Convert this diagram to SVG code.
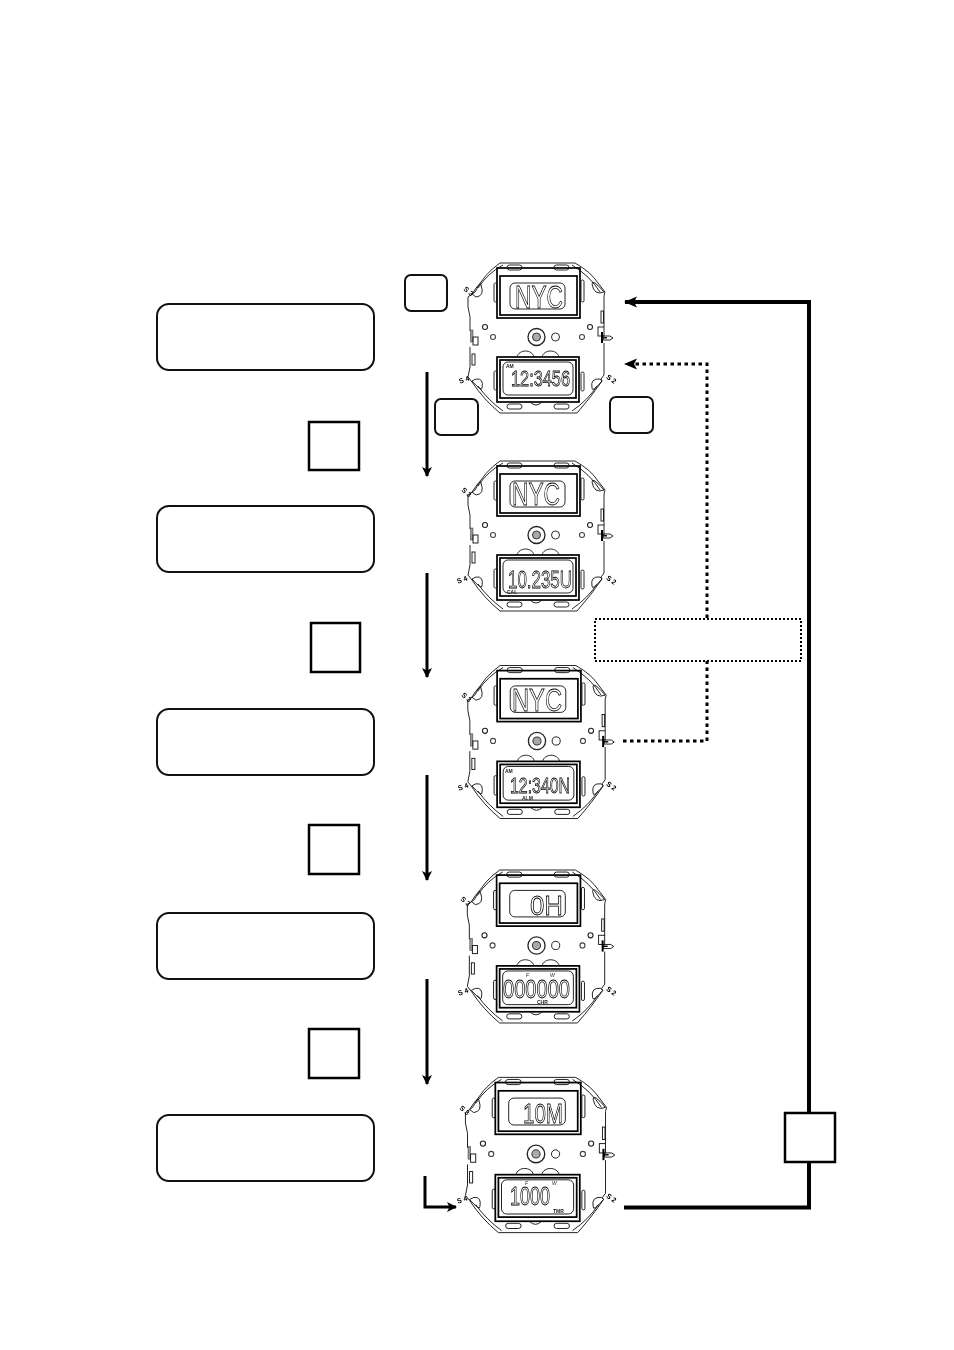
<svg xmlns="http://www.w3.org/2000/svg" width="954" height="1350" viewBox="0 0 954 1350">
<style>
.rb{fill:#fff;stroke:#111;stroke-width:2}
.sb{fill:#fff;stroke:#000;stroke-width:2.5}
.rs{fill:#fff;stroke:#111;stroke-width:2}
.t{fill:none;stroke:#000;stroke-linecap:butt;stroke-linejoin:miter}
.a{stroke-width:3;marker-end:url(#ah)}
.th{stroke-width:4;marker-end:url(#ah2)}
.dot{stroke-width:3;stroke-dasharray:3.5 3.5}
.dm{marker-end:url(#ah2)}
.w{fill:none;stroke:#111;stroke-width:.9}
.f{fill:none;stroke:#000;stroke-width:1.7}
.lcd{font-family:"Liberation Sans",Arial,sans-serif;fill:#fff;stroke:#000;stroke-width:.8}
.s{font-family:"Liberation Sans",Arial,sans-serif;font-weight:bold;font-size:7px;fill:#000;text-anchor:middle}
.m{font-family:"Liberation Sans",Arial,sans-serif;font-weight:bold;font-size:5px;fill:#222}
.i{font-style:italic;font-weight:normal}
.g{filter:url(#gray)}
</style>
<defs>
<filter id="gray" x="-5%" y="-5%" width="110%" height="110%" color-interpolation-filters="sRGB"><feColorMatrix type="saturate" values="0"/></filter>
<marker id="ah" markerUnits="userSpaceOnUse" markerWidth="12" markerHeight="11" refX="9" refY="5.5" orient="auto"><path d="M0 .5L10 5.5L0 10.500L2.500 5.500Z" fill="#000"/></marker>
<marker id="ah2" markerUnits="userSpaceOnUse" markerWidth="14" markerHeight="12" refX="12" refY="6" orient="auto"><path d="M0 .5L13 6L0 11.500L3 6Z" fill="#000"/></marker>
<g id="body">
<path class="w" d="M604 343V375L601 379L602 381Q592 396 577 413H500Q484 400 472 382L468 377L470 367V347M470 331V317L468 307V297L475 292Q484 274 500 263H575Q591 272 598 283L605 292L604 296V327"/>
<path class="w" d="M503 265Q488 273 478 288M572 265Q590 276 600 292M478 386Q488 400 503 411M597 386Q588 400 572 411"/>
<path class="w" d="M472 294Q481 280 481 285Q485 296 476 297ZM604 292Q592 278 592 284Q594 296 604 292ZM472 381Q482 392 482 388Q484 378 476 379ZM602 381Q592 393 592 388Q590 378 600 379Z"/>
<rect class="f" x="497" y="268" width="83" height="50"/>
<rect class="f" x="500" y="276" width="77" height="39"/>
<rect class="w" x="510" y="283" width="55" height="26" rx="5"/>
<rect class="w" x="507" y="265" width="15" height="5" rx="2.500"/><rect class="w" x="554" y="265" width="15" height="5" rx="2.500"/>
<rect class="w" x="494" y="283" width="3" height="19" rx="1.500"/><rect class="w" x="581" y="280" width="3" height="22" rx="1.500"/>
<rect class="f" x="497" y="357" width="82" height="45"/>
<rect class="f" x="500" y="360" width="76" height="38"/>
<rect class="w" x="503" y="362" width="70" height="33" rx="5"/>
<path class="w" d="M517 357C519 349 532 349 534 357M542 357C544 349 557 349 559 357M530 402Q536 408 542 402"/>
<rect class="w" x="507" y="404" width="15" height="5" rx="2.500"/><rect class="w" x="554" y="404" width="15" height="5" rx="2.500"/>
<rect class="w" x="494" y="371" width="3" height="19" rx="1.500"/><rect class="w" x="581" y="372" width="3" height="19" rx="1.500"/>
<circle cx="536.500" cy="337" r="8.500" fill="#fff" stroke="#222" stroke-width="1.300"/>
<circle cx="536.500" cy="337" r="4" fill="#aaa" stroke="#333" stroke-width="1"/>
<circle class="w" cx="555.500" cy="337" r="4"/>
<circle cx="485" cy="327" r="2.500" fill="none" stroke="#222" stroke-width="1.100"/><circle cx="493" cy="337" r="2.500" fill="none" stroke="#444" stroke-width="1.100"/>
<circle cx="590" cy="327" r="2.500" fill="none" stroke="#222" stroke-width="1.100"/><circle cx="582" cy="337" r="2.500" fill="none" stroke="#444" stroke-width="1.100"/>
<rect class="w" x="601" y="311" width="2.500" height="12"/>
<rect class="w" x="598" y="327" width="6" height="9"/>
<path d="M602 332V343" stroke="#000" stroke-width="2" fill="none"/>
<path class="w" d="M603 336H610L613 338L610 340H603Z"/>
<path d="M602 337.800H607" stroke="#000" stroke-width="1.400" fill="none"/>
<rect x="470.500" y="330" width="2.500" height="12" fill="#999" stroke="#333" stroke-width=".5"/>
<rect class="w" x="473" y="337" width="5" height="8"/>
<rect class="w" x="472" y="354" width="3" height="11"/>
</g>
</defs>

<g id="connectors">
<path class="t a" d="M427 372V476"/>
<path class="t a" d="M427 573V677"/>
<path class="t a" d="M427 775V880"/>
<path class="t a" d="M427 979V1084"/>
<path class="t a" d="M425 1176V1207H456"/>
<path class="t th" d="M624 1207.500H809V302H625"/>
<path class="t dot" d="M623 741H707V661"/>
<path class="t dot dm" d="M707 618V364H625"/>
</g>

<g id="watch1" class="g">
<use href="#body"/>
<text class="lcd" x="515" y="308" font-size="32" textLength="48" lengthAdjust="spacingAndGlyphs">NYC</text>
<text class="lcd" x="511" y="386" font-size="22" textLength="59" lengthAdjust="spacingAndGlyphs">12:3456</text>
<text class="m" x="506" y="368">AM</text>
<text class="s" transform="translate(467 293) rotate(40)">S 3</text>
<text class="s" transform="translate(465 382) rotate(-20)">S 4</text>
<text class="s" transform="translate(610 381) rotate(35)">S 2</text>
</g>
<g id="watch2" class="g">
<use href="#body" transform="translate(536.500 536) scale(1 1) translate(-536.500 -338)"/>
<text class="lcd" x="512" y="505" font-size="32" textLength="48" lengthAdjust="spacingAndGlyphs">NYC</text>
<text class="lcd" x="508" y="588" font-size="24" textLength="64" lengthAdjust="spacingAndGlyphs">10.235U</text>
<text class="m" x="507" y="594">CAL</text>
<text class="s" transform="translate(465 494) rotate(40)">S 3</text>
<text class="s" transform="translate(463 582) rotate(-20)">S 4</text>
<text class="s" transform="translate(610 582) rotate(35)">S 2</text>
</g>
<g id="watch3" class="g">
<use href="#body" transform="translate(537 742) scale(1.01 1.02) translate(-536.500 -338)"/>
<text class="lcd" x="512" y="711" font-size="32" textLength="50" lengthAdjust="spacingAndGlyphs">NYC</text>
<text class="lcd" x="510" y="793" font-size="22" textLength="60" lengthAdjust="spacingAndGlyphs">12:340N</text>
<text class="m" x="505" y="773">AM</text>
<text class="m" x="522" y="800">ALM</text>
<text class="s" transform="translate(465 699) rotate(40)">S 3</text>
<text class="s" transform="translate(464 789) rotate(-20)">S 4</text>
<text class="s" transform="translate(610 788) rotate(35)">S 2</text>
</g>
<g id="watch4" class="g">
<use href="#body" transform="translate(536.500 946.500) scale(1.01 1.02) translate(-536.500 -338)"/>
<text class="lcd" x="530" y="915" font-size="28" textLength="33" lengthAdjust="spacingAndGlyphs">0H</text>
<text class="lcd" x="503" y="998" font-size="25" textLength="67" lengthAdjust="spacingAndGlyphs">000000</text>
<text class="m i" x="526" y="977">F</text>
<text class="m i" x="550" y="977">W</text>
<text class="m" x="537" y="1004">CHR</text>
<text class="s" transform="translate(464 903) rotate(40)">S 3</text>
<text class="s" transform="translate(464 994) rotate(-20)">S 4</text>
<text class="s" transform="translate(610 993) rotate(35)">S 2</text>
</g>
<g id="watch5" class="g">
<use href="#body" transform="translate(536 1155) scale(1.03 1.035) translate(-536.500 -338)"/>
<text class="lcd" x="523" y="1123" font-size="28" textLength="40" lengthAdjust="spacingAndGlyphs">10M</text>
<text class="lcd" x="510" y="1205" font-size="25" textLength="40" lengthAdjust="spacingAndGlyphs">1000</text>
<text class="m i" x="525" y="1185">F</text>
<text class="m i" x="552" y="1185">W</text>
<text class="m" x="553" y="1213">TMR</text>
<text class="s" transform="translate(463 1112) rotate(40)">S 3</text>
<text class="s" transform="translate(463 1202) rotate(-20)">S 4</text>
<text class="s" transform="translate(610 1200) rotate(35)">S 2</text>
</g>

<g id="note-1"><rect class="rb" x="157" y="304" width="217" height="66" rx="12"/></g>
<g id="note-2"><rect class="rb" x="157" y="506" width="217" height="66" rx="12"/></g>
<g id="note-3"><rect class="rb" x="157" y="709" width="217" height="66" rx="12"/></g>
<g id="note-4"><rect class="rb" x="157" y="913" width="217" height="66" rx="12"/></g>
<g id="note-5"><rect class="rb" x="157" y="1115" width="217" height="66" rx="12"/></g>
<g id="sq-1"><rect class="sb" x="309" y="422" width="50" height="48"/></g>
<g id="sq-2"><rect class="sb" x="311" y="623" width="49" height="49"/></g>
<g id="sq-3"><rect class="sb" x="309" y="825" width="50" height="49"/></g>
<g id="sq-4"><rect class="sb" x="309" y="1029" width="50" height="49"/></g>
<g id="sq-5"><rect class="sb" x="785" y="1113" width="50" height="49"/></g>
<g id="btn-1"><rect class="rs" x="405" y="275" width="42" height="36" rx="6"/></g>
<g id="btn-2"><rect class="rs" x="435" y="399" width="43" height="36" rx="6"/></g>
<g id="btn-3"><rect class="rs" x="610" y="397" width="43" height="36" rx="6"/></g>
<g id="note-dotted"><rect x="595" y="619" width="206" height="42" fill="none" stroke="#000" stroke-width="2" stroke-dasharray="2 2"/></g>
</svg>
